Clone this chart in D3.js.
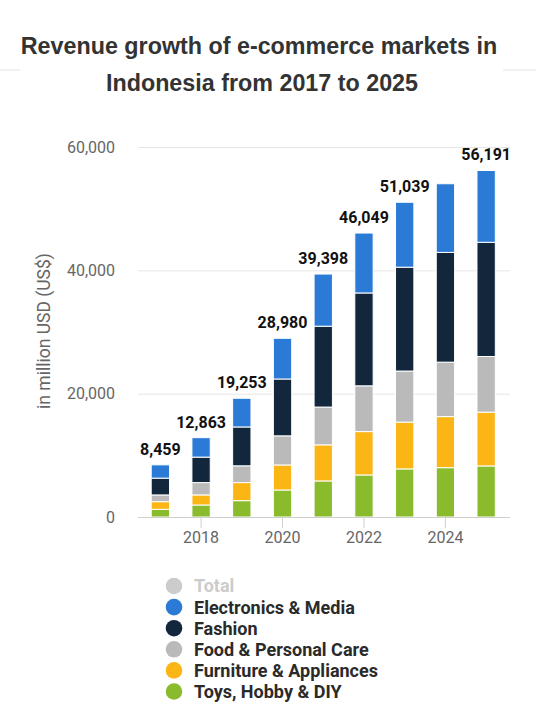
<!DOCTYPE html>
<html>
<head>
<meta charset="utf-8">
<script src="https://cdn.jsdelivr.net/npm/d3@7"></script>
<style>
  body { margin: 0; background: #fff; }
</style>
</head>
<body>
<main></main>
<script>
// years and segment values (million US$)
const years = [2017, 2018, 2019, 2020, 2021, 2022, 2023, 2024, 2025]
const toys = [1250, 1950, 2650, 4380, 5850, 6820, 7800, 8000, 8280]
const furniture = [1240, 1630, 2930, 4060, 5850, 7030, 7590, 8280, 8720]
const food = [1090, 2000, 2720, 4720, 6130, 7420, 8280, 8830, 9030]
const fashion = [2720, 4130, 6300, 9220, 13110, 15060, 16840, 17800, 18520]
const electronics = [2159, 3153, 4653, 6600, 8458, 9719, 10529, 11130, 11641]
const totalLabels = [8459, 12863, 19253, 28980, 39398, 46049, 51039, null, 56191]
const yTicks = [0, 20000, 40000, 60000]
const xTicks = [2018, 2020, 2022, 2024]

const series = [
    { name: "Toys, Hobby & DIY", values: toys, color: "#8abb2c" },
    { name: "Furniture & Appliances", values: furniture, color: "#fbb514" },
    { name: "Food & Personal Care", values: food, color: "#bababa" },
    { name: "Fashion", values: fashion, color: "#12263c" },
    { name: "Electronics & Media", values: electronics, color: "#2a7ad6" },
]

const svgWidth = 536
const svgHeight = 717

const plotLeft = 138
const plotRight = 510
const plotTop = 147
const plotBottom = 517

let svg = d3.select("main")
    .append("svg")
    .attr("width", svgWidth)
    .attr("height", svgHeight)
    .style("display", "block")
    .style("background-color", "white")

/* Title */

svg.append("line")
    .attr("x1", 0).attr("x2", 20).attr("y1", 70).attr("y2", 70)
    .attr("stroke", "#e3e3e3")
svg.append("line")
    .attr("x1", 503).attr("x2", svgWidth).attr("y1", 70).attr("y2", 70)
    .attr("stroke", "#e3e3e3")

let title = svg.append("text")
    .attr("text-anchor", "middle")
    .style("font-family", "'Liberation Sans', Arial, sans-serif")
    .style("font-weight", "bold")
    .style("font-size", "23.3px")
    .attr("fill", "#333")

title.append("tspan").attr("x", 259).attr("y", 54)
    .text("Revenue growth of e-commerce markets in")
title.append("tspan").attr("x", 262).attr("y", 91)
    .text("Indonesia from 2017 to 2025")

/* Scales */

let xScale = d3.scaleBand()
    .domain(years)
    .range([140, 506.5])
    .paddingInner(0.55)
    .paddingOuter(0.275)

let yScale = d3.scaleLinear()
    .domain([0, 60000])
    .range([plotBottom, plotTop])

/* Grid + y axis */

let leftAxis = d3.axisLeft(yScale)
    .tickValues(yTicks)
    .tickSize(-(plotRight - plotLeft))
    .tickPadding(23)
    .tickFormat(d3.format(","))

let yAxis = svg.append("g")
    .attr("transform", `translate(${plotLeft}, 0)`)
    .call(leftAxis)

yAxis.select(".domain").remove()
yAxis.selectAll("line").attr("stroke", "#e6e6e6")
yAxis.selectAll("text")
    .attr("fill", "#666")
    .style("font-family", "Roboto, sans-serif")
    .style("font-size", "16px")

svg.append("text")
    .attr("transform", `translate(50, ${(plotTop + plotBottom) / 2 - 1}) rotate(-90)`)
    .attr("text-anchor", "middle")
    .attr("fill", "#666")
    .style("font-family", "Roboto, sans-serif")
    .style("font-size", "17.5px")
    .text("in million USD (US$)")

/* Stacked bars */

let rows = years.map((y, i) => {
    let row = { year: y }
    series.forEach(s => { row[s.name] = s.values[i] })
    return row
})

let stack = d3.stack().keys(series.map(s => s.name))(rows)

let graph = svg.append("g")

graph.selectAll("g.layer")
    .data(stack)
    .enter()
    .append("g")
    .attr("class", "layer")
    .attr("fill", (d, i) => series[i].color)
    .selectAll("rect")
    .data(d => d)
    .enter()
    .append("rect")
    .attr("x", d => xScale(d.data.year))
    .attr("y", d => yScale(d[1]))
    .attr("width", xScale.bandwidth())
    .attr("height", d => yScale(d[0]) - yScale(d[1]))
    .attr("stroke", "white")
    .attr("stroke-width", 1)

/* x axis */

let bottomAxis = d3.axisBottom(xScale)
    .tickValues(xTicks)
    .tickSize(11)
    .tickPadding(4)
    .tickSizeOuter(0)

let xAxis = svg.append("g")
    .attr("transform", `translate(0, ${plotBottom})`)
    .call(bottomAxis)

xAxis.select(".domain")
    .attr("d", `M${plotLeft},0.5H${plotRight}`)
    .attr("stroke", "#cfcfcf")
xAxis.selectAll("line").attr("stroke", "#cfcfcf")
xAxis.selectAll("text")
    .attr("fill", "#666")
    .style("font-family", "Roboto, sans-serif")
    .style("font-size", "16px")

/* Total labels */

let lastLayer = stack[stack.length - 1]

svg.append("g")
    .selectAll("text")
    .data(years.map((y, i) => ({ year: y, label: totalLabels[i], top: lastLayer[i][1] })))
    .enter()
    .filter(d => d.label !== null)
    .append("text")
    .attr("x", d => xScale(d.year) + xScale.bandwidth() / 2)
    .attr("y", d => yScale(d.top) - 10)
    .attr("text-anchor", "middle")
    .attr("fill", "#111")
    .style("font-family", "Roboto, sans-serif")
    .style("font-weight", "bold")
    .style("font-size", "16px")
    .text(d => d3.format(",")(d.label))

/* Legend */

let legendItems = [{ name: "Total", color: "#cccccc", text: "#cccccc" }]
    .concat(series.slice().reverse().map(s => ({ name: s.name, color: s.color, text: "#2a2a2a" })))

let legend = svg.append("g")
    .attr("transform", "translate(174, 586)")

let item = legend.selectAll("g")
    .data(legendItems)
    .enter()
    .append("g")
    .attr("transform", (d, i) => `translate(0, ${i * 21.1})`)

item.append("circle")
    .attr("r", 8.3)
    .attr("fill", d => d.color)

item.append("text")
    .attr("x", 20)
    .attr("dy", "0.36em")
    .attr("fill", d => d.text)
    .style("font-family", "Roboto, sans-serif")
    .style("font-weight", "bold")
    .style("font-size", "18px")
    .text(d => d.name)
</script>
</body>
</html>
